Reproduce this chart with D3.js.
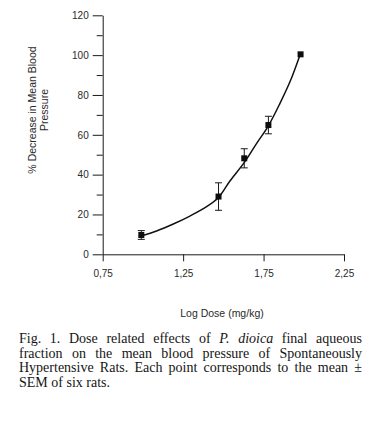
<!DOCTYPE html>
<html>
<head>
<meta charset="utf-8">
<script src="https://cdn.jsdelivr.net/npm/d3@7"></script>
<style>
  html, body { margin: 0; padding: 0; background: #fff; }
  svg { display: block; }
  .axis text { font-family: "Liberation Sans", Arial, sans-serif; font-size: 10px; fill: #2a2a2a; }
  .axis path, .axis line { stroke: #1a1a1a; stroke-width: 1; }
  .title { font-family: "Liberation Sans", Arial, sans-serif; font-size: 10.5px; fill: #2a2a2a; }
  .caption { font-family: "Liberation Serif", "Times New Roman", serif; font-size: 14px; fill: #151515; }
</style>
</head>
<body>
<svg id="chart" width="377" height="423"></svg>
<script>
/* ---------- Data ---------- */
const logDose      = [0.99, 1.47, 1.63, 1.78, 1.98];
const meanDecrease = [9.7, 29.0, 48.2, 64.9, 100.4];
const semValues    = [2.2, 6.9, 4.8, 4.4, 0];

// fitted curve
const fitDose     = [0.99, 1.085, 1.189, 1.292, 1.396, 1.468, 1.541, 1.634, 1.707, 1.779, 1.852, 1.914, 1.976];
const fitDecrease = [9.2, 11.7, 15.2, 19.2, 23.9, 28.4, 36.8, 46.5, 55.7, 64.4, 75.8, 86.6, 100.0];

const yTicks      = [0, 20, 40, 60, 80, 100, 120];
const yMinorTicks = [10, 30, 50, 70, 90, 110];
const xTicks      = [0.75, 1.25, 1.75, 2.25];
const xTickLabels = ["0,75", "1,25", "1,75", "2,25"];

const yTitleLines = ["% Decrease in Mean Blood", "Pressure"];
const xTitle = "Log Dose (mg/kg)";
const captionLines = [
    [["Fig. 1. Dose related effects of ", false], ["P. dioica", true], [" final aqueous", false]],
    [["fraction on the mean blood pressure of Spontaneously", false]],
    [["Hypertensive Rats. Each point corresponds to the mean \u00b1", false]],
    [["SEM of six rats.", false]]
];

/* ---------- Layout ---------- */
const svg = d3.select("#chart");
const plot = {left: 102.7, right: 344, top: 15.3, bottom: 254.3};

const x = d3.scaleLinear().domain([0.75, 2.25]).range([plot.left, plot.right]);
const y = d3.scaleLinear().domain([0, 120]).range([plot.bottom, plot.top]);

/* ---------- Axes ---------- */
svg.append("g")
    .attr("class", "axis y-minor")
    .attr("transform", `translate(${plot.left},0)`)
    .call(d3.axisLeft(y).tickValues(yMinorTicks).tickSize(6).tickFormat(""))
    .call(g => g.select(".domain").remove());

svg.append("g")
    .attr("class", "axis y-axis")
    .attr("transform", `translate(${plot.left},0)`)
    .call(d3.axisLeft(y).tickValues(yTicks).tickSize(10).tickSizeOuter(0).tickPadding(4).tickFormat(d3.format("d")));

svg.append("g")
    .attr("class", "axis x-axis")
    .attr("transform", `translate(0,${plot.bottom})`)
    .call(d3.axisBottom(x).tickValues(xTicks).tickSize(7).tickSizeOuter(0).tickPadding(8.5)
        .tickFormat((d, i) => xTickLabels[i]));

/* ---------- Titles ---------- */
const yTitle = svg.append("text")
    .attr("class", "title")
    .attr("text-anchor", "middle")
    .attr("transform", "rotate(-90)");
yTitle.selectAll("tspan")
    .data(yTitleLines)
    .join("tspan")
    .attr("x", -110)
    .attr("y", (d, i) => 36 + i * 11.5)
    .text(d => d);

svg.append("text")
    .attr("class", "title")
    .attr("text-anchor", "middle")
    .attr("x", 222)
    .attr("y", 317)
    .text(xTitle);

/* ---------- Fitted curve ---------- */
const fit = fitDose.map((d, i) => [d, fitDecrease[i]]);
svg.append("path")
    .datum(fit)
    .attr("fill", "none")
    .attr("stroke", "#111")
    .attr("stroke-width", 1.5)
    .attr("d", d3.line().x(d => x(d[0])).y(d => y(d[1])).curve(d3.curveCatmullRom));

/* ---------- Error bars + markers ---------- */
const points = logDose.map((d, i) => ({dose: d, mean: meanDecrease[i], sem: semValues[i]}));
const capW = 3.5;

const bars = svg.append("g").attr("stroke", "#1a1a1a").attr("stroke-width", 1)
    .selectAll("g")
    .data(points.filter(p => p.sem > 0))
    .join("g");
bars.append("line")
    .attr("x1", d => x(d.dose)).attr("x2", d => x(d.dose))
    .attr("y1", d => y(d.mean + d.sem)).attr("y2", d => y(d.mean - d.sem));
bars.append("line")
    .attr("x1", d => x(d.dose) - capW).attr("x2", d => x(d.dose) + capW)
    .attr("y1", d => y(d.mean + d.sem)).attr("y2", d => y(d.mean + d.sem));
bars.append("line")
    .attr("x1", d => x(d.dose) - capW).attr("x2", d => x(d.dose) + capW)
    .attr("y1", d => y(d.mean - d.sem)).attr("y2", d => y(d.mean - d.sem));

const sq = 6;
svg.append("g")
    .selectAll("rect")
    .data(points)
    .join("rect")
    .attr("x", d => x(d.dose) - sq / 2)
    .attr("y", d => y(d.mean) - sq / 2)
    .attr("width", sq)
    .attr("height", sq)
    .attr("fill", "#0d0d0d");

/* ---------- Caption (justified lines) ---------- */
const capLeft = 19, capRight = 362, capBase = 343, capStep = 14.6;
captionLines.forEach((parts, i) => {
    const t = svg.append("text")
        .attr("class", "caption")
        .attr("x", capLeft)
        .attr("y", capBase + i * capStep);
    parts.forEach(([txt, ital]) => {
        t.append("tspan").attr("font-style", ital ? "italic" : null).text(txt);
    });
    if (i < captionLines.length - 1) {
        const full = parts.map(p => p[0]).join("");
        const spaces = (full.match(/ /g) || []).length;
        const len = t.node().getComputedTextLength();
        if (spaces > 0) t.attr("word-spacing", (capRight - capLeft - len) / spaces);
    }
});
</script>
</body>
</html>
